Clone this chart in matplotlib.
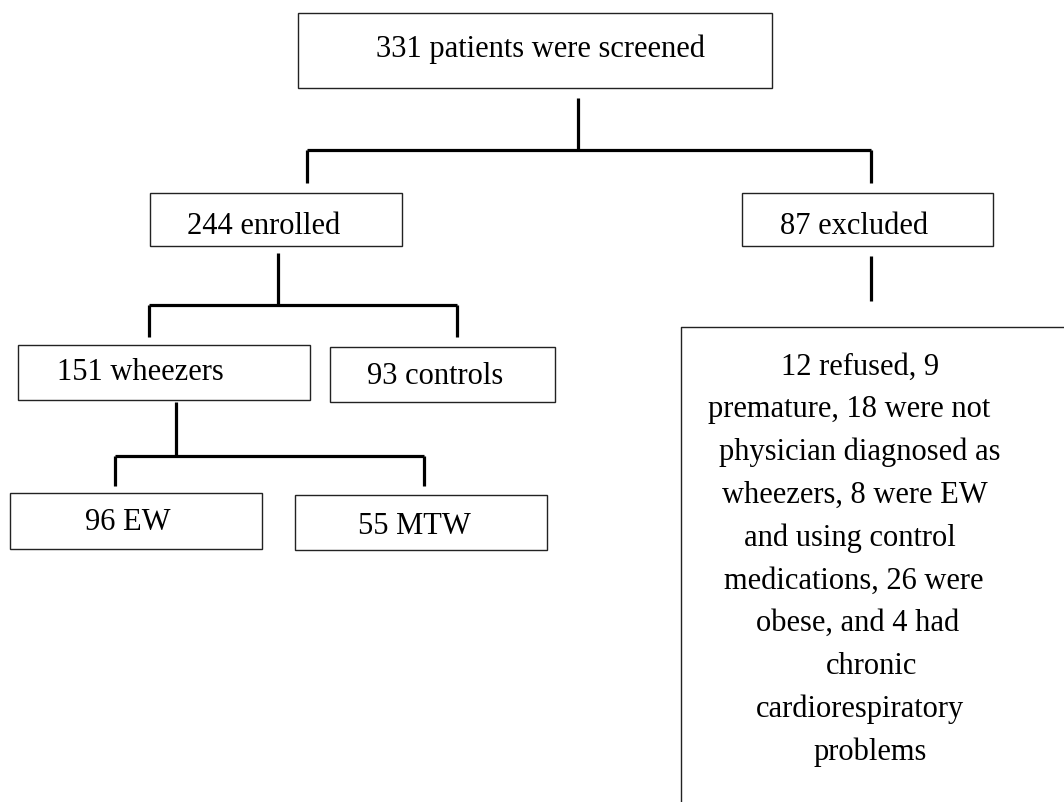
import matplotlib.pyplot as plt
from matplotlib.patches import Rectangle

# --- data: box texts of the flow diagram ---
top_label = "331 patients were screened"
level2_labels = ["244 enrolled", "87 excluded"]
level3_labels = ["151 wheezers", "93 controls"]
level4_labels = ["96 EW", "55 MTW"]
excluded_lines = [
    "12 refused, 9",
    "premature, 18 were not",
    "physician diagnosed as",
    "wheezers, 8 were EW",
    "and using control",
    "medications, 26 were",
    "obese, and 4 had",
    "chronic",
    "cardiorespiratory",
    "problems",
]

FONT = "Liberation Serif"
FS = 22
BOX_LW = 1.0
LINK_LW = 2.3

fig = plt.figure(figsize=(10.64, 8.02), dpi=100)
ax = fig.add_axes([0, 0, 1, 1])
ax.set_xlim(0, 1064)
ax.set_ylim(802, 0)
ax.axis('off')


def box(x0, y0, x1, y1, label=None, tx=None, ty=None):
    ax.add_patch(Rectangle((x0, y0), x1 - x0, y1 - y0, fill=False,
                           edgecolor='#222222', linewidth=BOX_LW))
    if label:
        ax.text(tx if tx is not None else (x0 + x1) / 2,
                ty if ty is not None else (y0 + y1) / 2,
                label, ha='center', va='center', fontsize=FS, family=FONT)


def link(xs, ys):
    ax.plot(xs, ys, color='black', linewidth=LINK_LW, solid_capstyle='butt')


# top
box(298, 13, 772, 88, top_label, tx=540, ty=49)
link([578, 578], [98, 150])
link([307, 871], [150, 150])
link([307, 307], [150, 183])
link([871, 871], [150, 183])

# level 2
box(150, 193, 402, 246, level2_labels[0], tx=264, ty=226)
box(742, 193, 993, 246, level2_labels[1], tx=854, ty=226)
link([278, 278], [253, 304])
link([149, 457], [305, 305])
link([149, 149], [305, 337])
link([457, 457], [305, 337])
link([871, 871], [256, 301])

# excluded details box (cut off at right/bottom)
ax.plot([681, 681, 1064], [802, 327, 327], color='#222222', linewidth=BOX_LW)
line_cx = [860, 849, 860, 855, 850, 854, 858, 872, 860, 870]
for i, (txt, cx) in enumerate(zip(excluded_lines, line_cx)):
    ax.text(cx, 367 + i * 42.8, txt, ha='center', va='center',
            fontsize=FS, family=FONT)

# level 3
box(18, 345, 310, 400, level3_labels[0], tx=140, ty=373)
box(330, 347, 555, 402, level3_labels[1], tx=435, ty=376)
link([176, 176], [402, 455])
link([115, 424], [456, 456])
link([115, 115], [456, 486])
link([424, 424], [456, 486])

# level 4
box(10, 493, 262, 549, level4_labels[0], tx=128, ty=522)
box(295, 495, 547, 550, level4_labels[1], tx=414, ty=527)

fig.savefig('out.png', dpi=100)
